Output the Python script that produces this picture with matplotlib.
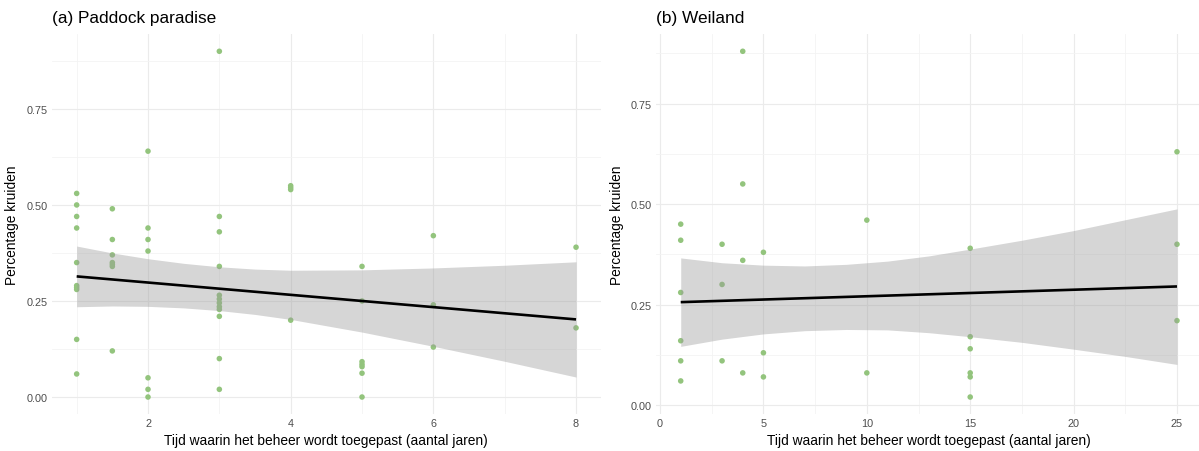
import matplotlib
matplotlib.use("Agg")
import matplotlib.pyplot as plt
from matplotlib.ticker import FixedLocator

plt.rcParams["font.family"] = ["Liberation Sans", "DejaVu Sans"]

# ---- Paddock paradise ----
paddock_x = [1, 1, 1, 1, 1, 1, 1, 1, 1, 1,
             1.5, 1.5, 1.5, 1.5, 1.5, 1.5, 1.5,
             2, 2, 2, 2, 2, 2, 2,
             3, 3, 3, 3, 3, 3, 3, 3, 3, 3, 3, 3,
             4, 4, 4, 4,
             5, 5, 5, 5, 5, 5, 5,
             6, 6, 6,
             8, 8]
paddock_y = [0.53, 0.50, 0.47, 0.44, 0.35, 0.29, 0.285, 0.28, 0.15, 0.06,
             0.49, 0.41, 0.37, 0.35, 0.345, 0.34, 0.12,
             0.64, 0.44, 0.41, 0.38, 0.05, 0.02, 0.00,
             0.90, 0.47, 0.43, 0.34, 0.265, 0.255, 0.245, 0.235, 0.228, 0.21, 0.10, 0.02,
             0.55, 0.545, 0.54, 0.20,
             0.34, 0.25, 0.092, 0.085, 0.079, 0.062, 0.00,
             0.42, 0.24, 0.13,
             0.39, 0.18]
paddock_fit_x = [1, 8]
paddock_fit_y = [0.314, 0.202]
paddock_band_x = [1, 1.5, 2, 2.5, 3, 3.5, 4, 5, 6, 7, 8]
paddock_band_hi = [0.393, 0.375, 0.360, 0.348, 0.339, 0.333, 0.330, 0.331, 0.336, 0.343, 0.352]
paddock_band_lo = [0.235, 0.237, 0.236, 0.232, 0.225, 0.215, 0.202, 0.169, 0.132, 0.093, 0.052]

# ---- Weiland ----
weiland_x = [1, 1, 1, 1, 1, 1,
             3, 3, 3,
             4, 4, 4, 4,
             5, 5, 5,
             10, 10,
             15, 15, 15, 15, 15, 15,
             25, 25, 25]
weiland_y = [0.45, 0.41, 0.28, 0.16, 0.11, 0.06,
             0.40, 0.30, 0.11,
             0.88, 0.55, 0.36, 0.08,
             0.38, 0.13, 0.07,
             0.46, 0.08,
             0.39, 0.17, 0.14, 0.08, 0.07, 0.02,
             0.63, 0.40, 0.21]
weiland_fit_x = [1, 25]
weiland_fit_y = [0.256, 0.295]
weiland_band_x = [1, 3, 5, 7, 9, 11, 13, 15, 17.5, 20, 22.5, 25]
weiland_band_hi = [0.366, 0.354, 0.348, 0.346, 0.350, 0.358, 0.371, 0.388, 0.410, 0.434, 0.461, 0.488]
weiland_band_lo = [0.146, 0.164, 0.177, 0.185, 0.188, 0.187, 0.180, 0.170, 0.156, 0.139, 0.121, 0.101]

y_ticks = [0.00, 0.25, 0.50, 0.75]
y_tick_labels = ["0.00", "0.25", "0.50", "0.75"]

POINT = "#93c47d"
TICK_COLOR = "#4d4d4d"

W, H = 1199, 452
fig = plt.figure(figsize=(W / 100, H / 100), dpi=100)


def panel(rect, xs, ys, fx, fy, bx, bhi, blo, xlim, ylim, xmajor, xminor, title):
    ax = fig.add_axes(rect)
    ax.set_xlim(*xlim)
    ax.set_ylim(*ylim)
    ax.xaxis.set_major_locator(FixedLocator(xmajor))
    ax.xaxis.set_minor_locator(FixedLocator(xminor))
    ax.yaxis.set_major_locator(FixedLocator(y_ticks))
    ax.yaxis.set_minor_locator(FixedLocator([0.125, 0.375, 0.625, 0.875]))
    ax.set_yticklabels(y_tick_labels)
    ax.grid(which="major", color="#ebebeb", lw=0.85, zorder=0)
    ax.grid(which="minor", color="#f3f3f3", lw=0.55, zorder=0)
    for s in ax.spines.values():
        s.set_visible(False)
    ax.tick_params(which="both", length=0, labelsize=7.8, labelcolor=TICK_COLOR, pad=3)
    ax.scatter(xs, ys, s=16, color=POINT, edgecolors="none", zorder=2)
    ax.fill_between(bx, blo, bhi, color="#999999", alpha=0.4, lw=0, zorder=3)
    ax.plot(fx, fy, color="black", lw=1.9, zorder=4, solid_capstyle="butt")
    ax.set_xlabel("Tijd waarin het beheer wordt toegepast (aantal jaren)",
                  fontsize=9.9, color="black", labelpad=3)
    ax.set_ylabel("Percentage kruiden", fontsize=9.9, color="black", labelpad=5)
    ax.set_title(title, loc="left", fontsize=12.4, pad=9)
    return ax


left_rect = [51.7 / W, (H - 415.3) / H, (601 - 51.7) / W, 380.3 / H]
right_rect = [655.9 / W, (H - 415.3) / H, (1201.8 - 655.9) / W, 380.3 / H]

panel(left_rect, paddock_x, paddock_y, paddock_fit_x, paddock_fit_y,
      paddock_band_x, paddock_band_hi, paddock_band_lo,
      (0.65, 8.35), (-0.045, 0.945), [2, 4, 6, 8], [1, 3, 5, 7],
      "(a) Paddock paradise")

panel(right_rect, weiland_x, weiland_y, weiland_fit_x, weiland_fit_y,
      weiland_band_x, weiland_band_hi, weiland_band_lo,
      (-0.2, 26.2), (-0.023, 0.923), [0, 5, 10, 15, 20, 25],
      [2.5, 7.5, 12.5, 17.5, 22.5],
      "(b) Weiland")

fig.savefig("out.png", dpi=100, facecolor="white")
